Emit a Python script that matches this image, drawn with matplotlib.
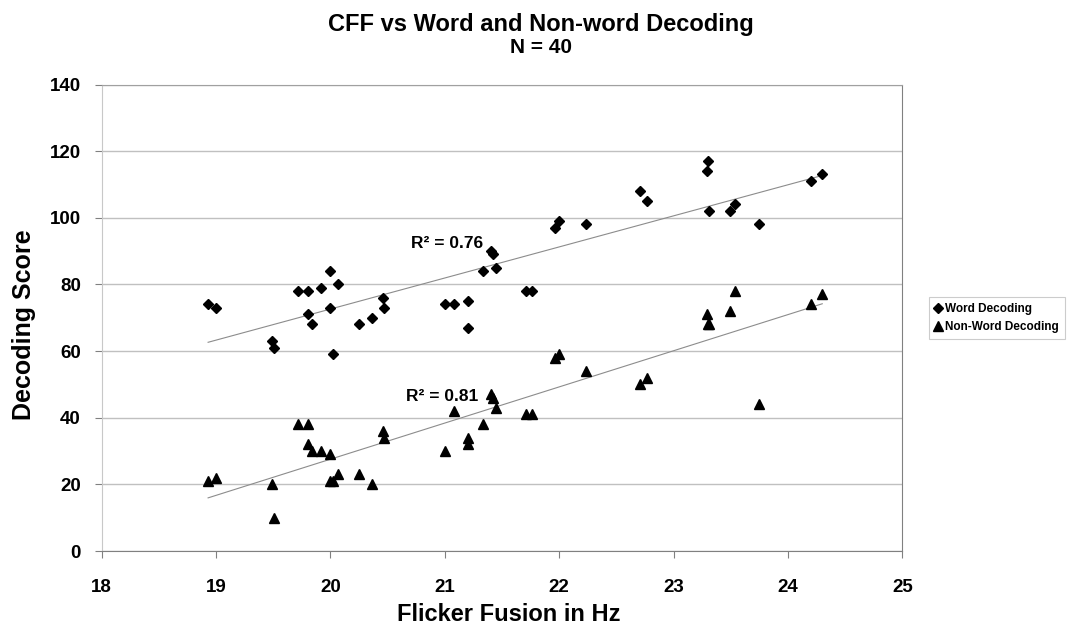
import numpy as np
import matplotlib
matplotlib.use("Agg")
import matplotlib.pyplot as plt

# flicker fusion threshold (Hz) per subject, N = 40
cff = [18.93, 19.00, 19.49, 19.51, 19.72, 19.80, 19.80, 19.84, 19.92, 20.00,
       20.00, 20.02, 20.07, 20.25, 20.36, 20.46, 20.47, 21.00, 21.08, 21.20,
       21.20, 21.33, 21.40, 21.42, 21.45, 21.71, 21.76, 21.96, 22.00, 22.23,
       22.71, 22.77, 23.29, 23.30, 23.31, 23.49, 23.54, 23.75, 24.20, 24.30]
word = [74, 73, 63, 61, 78, 78, 71, 68, 79, 84,
        73, 59, 80, 68, 70, 76, 73, 74, 74, 75,
        67, 84, 90, 89, 85, 78, 78, 97, 99, 98,
        108, 105, 114, 117, 102, 102, 104, 98, 111, 113]
nonword = [21, 22, 20, 10, 38, 38, 32, 30, 30, 29,
           21, 21, 23, 23, 20, 36, 34, 30, 42, 34,
           32, 38, 47, 46, 43, 41, 41, 58, 59, 54,
           50, 52, 71, 68, 68, 72, 78, 44, 74, 77]
r2_word = 0.76
r2_nonword = 0.81

FONT = "Liberation Sans"
plt.rcParams["font.family"] = [FONT, "DejaVu Sans"]
plt.rcParams["font.weight"] = "bold"

fig = plt.figure(figsize=(10.71, 6.36), dpi=100)
ax = fig.add_axes([0.095, 0.1336, 0.7475, 0.7335])

x = np.array(cff)
ax.plot(x, word, "D", color="black", markersize=5, label="Word Decoding", zorder=3)
ax.plot(x, nonword, "^", color="black", markersize=6.5, label="Non-Word Decoding", zorder=3)

# linear trendlines over the data range
xs = np.array([x.min(), x.max()])
for ys in (word, nonword):
    b, a = np.polyfit(x, ys, 1)
    ax.plot(xs, a + b * xs, color="#8c8c8c", lw=0.8, zorder=2)

ax.text(20.70, 92.4, f"R\u00b2 = {r2_word:.2f}", fontsize=12.5, fontweight="bold",
        ha="left", va="center")
ax.text(20.66, 46.5, f"R\u00b2 = {r2_nonword:.2f}", fontsize=12.5, fontweight="bold",
        ha="left", va="center")

ax.set_xlim(18, 25)
ax.set_ylim(0, 140)
ax.set_xticks(range(18, 26))
ax.set_yticks(range(0, 141, 20))
ax.yaxis.grid(True, color="#c0c0c0", lw=1)
ax.set_axisbelow(True)

for side in ("right", "bottom"):
    ax.spines[side].set_color("#808080")
ax.spines["top"].set_color("#a0a0a0")
ax.spines["left"].set_color("#c8c8c8")
ax.tick_params(axis="x", direction="out", length=5, color="#808080", pad=15, labelsize=13.5)
ax.tick_params(axis="y", direction="out", length=5, color="#808080", pad=10, labelsize=13.5)
for lab in ax.get_xticklabels() + ax.get_yticklabels():
    lab.set_fontweight("bold")

ax.set_xlabel("Flicker Fusion in Hz", fontsize=17, fontweight="bold", va="center")
ax.xaxis.set_label_coords(0.509, -0.137)
ax.set_ylabel("Decoding Score", fontsize=18, fontweight="bold", va="center")
ax.yaxis.set_label_coords(-0.097, 0.485)

fig.text(0.505, 0.962, "CFF vs Word and Non-word Decoding", fontsize=17,
         fontweight="bold", ha="center", va="center")
fig.text(0.505, 0.926, "N = 40", fontsize=15, fontweight="bold", ha="center", va="center")

leg = fig.legend(loc="center left", bbox_to_anchor=(0.867, 0.5), fontsize=8.5,
                 frameon=True, fancybox=False, handlelength=0.6, handletextpad=0.3,
                 borderpad=0.5, labelspacing=0.5, borderaxespad=0)
leg.get_frame().set_edgecolor("#c0c0c0")
leg.get_frame().set_linewidth(0.8)
for t in leg.get_texts():
    t.set_fontweight("bold")

fig.savefig("out.png", dpi=100)
